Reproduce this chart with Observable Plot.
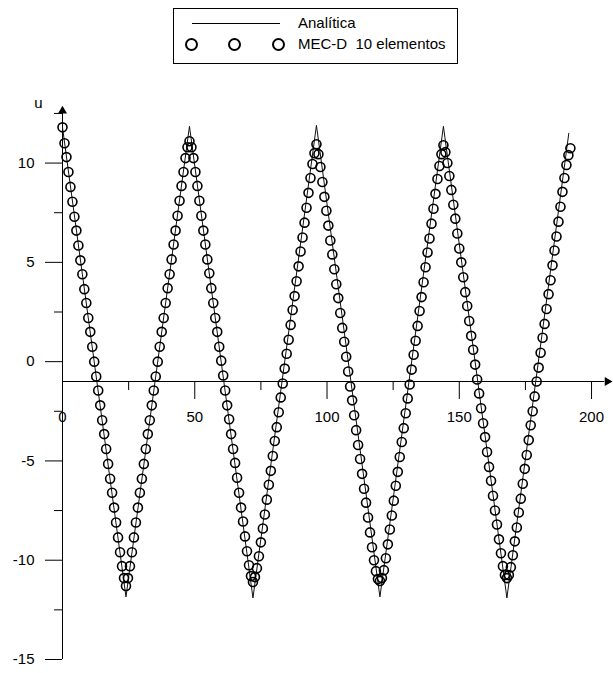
<!DOCTYPE html>
<html>
<head>
<meta charset="utf-8">
<script src="https://cdn.jsdelivr.net/npm/d3@7"></script>
<script src="https://cdn.jsdelivr.net/npm/@observablehq/plot@0.6"></script>
<style>
  body { margin: 0; background: #fff; font-family: "Liberation Sans", Arial, sans-serif; }
  #wrap { position: relative; width: 613px; height: 673px; overflow: hidden; }
  #legend { position: relative; width: 613px; height: 70px; }
  #legend .box { position: absolute; left: 173px; top: 8px; width: 285px; height: 56px; box-sizing: border-box; border: 1px solid #000; }
  #legend .ln { position: absolute; left: 192px; top: 23px; width: 88px; height: 0; border-top: 1px solid #000; }
  #legend .txt { position: absolute; left: 298px; font-size: 15px; line-height: 16px; white-space: pre; color: #000; }
  #legend .circ { position: absolute; width: 13px; height: 13px; box-sizing: border-box; border: 2px solid #000; border-radius: 50%; }
  #chart svg { display: block; }
</style>
</head>
<body>
<div id="wrap">
  <div id="legend">
    <div class="box"></div>
    <div class="ln"></div>
    <div class="txt" style="top:15px">Analítica</div>
    <div class="circ" style="left:185px;top:38px"></div>
    <div class="circ" style="left:228px;top:38px"></div>
    <div class="circ" style="left:272px;top:38px"></div>
    <div class="txt" style="top:36px">MEC-D  10 elementos</div>
  </div>
  <div id="chart"></div>
</div>
<script>
// ---- Data ----
// Analytical solution (vertices of the piecewise-linear curve)
const tAnalytic = [0, 24, 48, 72, 96, 120, 144, 168, 191.4];
const uAnalytic = [11.8, -11.85, 11.85, -11.9, 11.9, -11.85, 11.85, -11.9, 11.5];

// MEC-D 10 elementos: sampled with time step dt, split in half-swings
const dt = 0.75;
const swing1 = [11.8, 11.0, 10.3, 9.55, 8.8, 8.05, 7.3, 6.6, 5.85, 5.1, 4.4, 3.65, 2.95, 2.2, 1.5, 0.75, 0.0, -0.75, -1.45, -2.2, -2.95, -3.65, -4.4, -5.15, -5.9, -6.6, -7.35, -8.1, -8.85, -9.6, -10.3, -10.9];
const swing2 = [-11.3, -10.9, -10.3, -9.6, -8.85, -8.1, -7.35, -6.6, -5.9, -5.15, -4.4, -3.65, -2.95, -2.2, -1.45, -0.75, 0.0, 0.75, 1.5, 2.2, 2.95, 3.7, 4.4, 5.15, 5.9, 6.6, 7.35, 8.1, 8.85, 9.55, 10.25, 10.8];
const swing3 = [11.1, 10.8, 10.25, 9.55, 8.85, 8.1, 7.35, 6.6, 5.9, 5.15, 4.45, 3.7, 2.95, 2.2, 1.5, 0.75, 0.05, -0.7, -1.45, -2.2, -2.9, -3.65, -4.4, -5.1, -5.85, -6.6, -7.35, -8.05, -8.8, -9.55, -10.25, -10.8];
const swing4 = [-11.1, -10.85, -10.4, -9.8, -9.1, -8.4, -7.7, -6.95, -6.2, -5.5, -4.75, -4.0, -3.3, -2.55, -1.8, -1.1, -0.35, 0.4, 1.1, 1.85, 2.6, 3.3, 4.05, 4.8, 5.55, 6.25, 7.0, 7.75, 8.5, 9.25, 9.95, 10.5];
const swing5 = [10.95, 10.45, 9.8, 9.05, 8.3, 7.6, 6.85, 6.1, 5.4, 4.65, 3.9, 3.2, 2.45, 1.7, 1.0, 0.25, -0.5, -1.25, -1.95, -2.7, -3.45, -4.2, -4.9, -5.65, -6.4, -7.1, -7.85, -8.6, -9.35, -10.0, -10.55, -10.95];
const swing6 = [-11.05, -10.9, -10.5, -9.9, -9.2, -8.45, -7.75, -7.0, -6.25, -5.55, -4.8, -4.05, -3.35, -2.6, -1.85, -1.15, -0.4, 0.35, 1.05, 1.8, 2.55, 3.25, 4.0, 4.75, 5.5, 6.2, 6.95, 7.7, 8.45, 9.2, 9.85, 10.45];
const swing7 = [10.9, 10.55, 10.0, 9.35, 8.65, 7.9, 7.2, 6.45, 5.7, 5.0, 4.25, 3.5, 2.8, 2.05, 1.3, 0.6, -0.15, -0.9, -1.6, -2.35, -3.1, -3.8, -4.55, -5.3, -6.0, -6.75, -7.5, -8.2, -8.95, -9.65, -10.3, -10.75];
const swing8 = [-10.9, -10.75, -10.35, -9.75, -9.05, -8.35, -7.6, -6.9, -6.15, -5.4, -4.7, -3.95, -3.2, -2.5, -1.75, -1.0, -0.3, 0.45, 1.2, 1.9, 2.65, 3.4, 4.1, 4.85, 5.6, 6.3, 7.05, 7.8, 8.55, 9.25, 9.9, 10.4, 10.75];

// Axis ticks
const yMajor = [-15, -10, -5, 0, 5, 10];
const yMinor = [-12.5, -7.5, -2.5, 2.5, 7.5, 12.5];
const xMajor = [50, 100, 150, 200];
const xMinor = [25, 75, 125, 175];
const xLabels = [0, 50, 100, 150, 200];
const xAxisAt = -1;

// ---- Build tables ----
const analytic = tAnalytic.map((t, i) => ({t, u: uAnalytic[i]}));
const uNum = [].concat(swing1, swing2, swing3, swing4, swing5, swing6, swing7, swing8);
const numeric = uNum.map((u, i) => ({t: i * dt, u}));

const font = '"Liberation Sans", Arial, sans-serif';

const chart = Plot.plot({
  width: 613,
  height: 603,
  marginLeft: 62,
  marginRight: 0,
  marginTop: 33,
  marginBottom: 14,
  x: {domain: [0, 208.3], axis: null},
  y: {domain: [-15, 13], axis: null},
  style: {fontFamily: font, fontSize: "15px", background: "white", color: "#000", overflow: "visible"},
  marks: [
    // y axis line + arrow
    Plot.ruleX([0], {y1: () => -15, y2: () => 12.6, stroke: "#000", strokeWidth: 1}),
    Plot.dot([{x: 0, y: 12.63}], {x: "x", y: "y", symbol: "triangle", r: 3.34, fill: "#000", stroke: "none"}),
    // y ticks
    Plot.ruleY(yMajor, {x1: () => 0, x2: () => 0, insetLeft: -17, stroke: "#000", strokeWidth: 1}),
    Plot.ruleY(yMinor, {x1: () => 0, x2: () => 0, insetLeft: -8, stroke: "#000", strokeWidth: 1}),
    Plot.text(yMajor, {x: () => 0, y: d => d, text: d => String(d), dx: -28, textAnchor: "end", fontSize: 15, fill: "#000"}),
    Plot.text(["u"], {x: () => 0, y: () => 13, text: d => d, dx: -24, fontSize: 15, fill: "#000"}),
    // x axis line + arrow
    Plot.ruleY([xAxisAt], {x1: () => 0, x2: () => 205, stroke: "#000", strokeWidth: 1}),
    Plot.dot([{x: 205.97, y: xAxisAt}], {x: "x", y: "y", symbol: "triangle", r: 3.34, rotate: 90, fill: "#000", stroke: "none"}),
    // x ticks
    Plot.ruleX(xMajor, {y1: () => xAxisAt, y2: () => xAxisAt, insetBottom: -18, stroke: "#000", strokeWidth: 1}),
    Plot.ruleX(xMinor, {y1: () => xAxisAt, y2: () => xAxisAt, insetBottom: -9, stroke: "#000", strokeWidth: 1}),
    Plot.text(xLabels, {x: d => d, y: () => xAxisAt, text: d => String(d), dy: 36, fontSize: 15, fill: "#000"}),
    // data
    Plot.line(analytic, {x: "t", y: "u", stroke: "#111", strokeWidth: 1}),
    Plot.dot(numeric, {x: "t", y: "u", r: 4.5, stroke: "#000", strokeWidth: 1.6, fill: "none"})
  ]
});
document.getElementById("chart").appendChild(chart);
</script>
</body>
</html>
